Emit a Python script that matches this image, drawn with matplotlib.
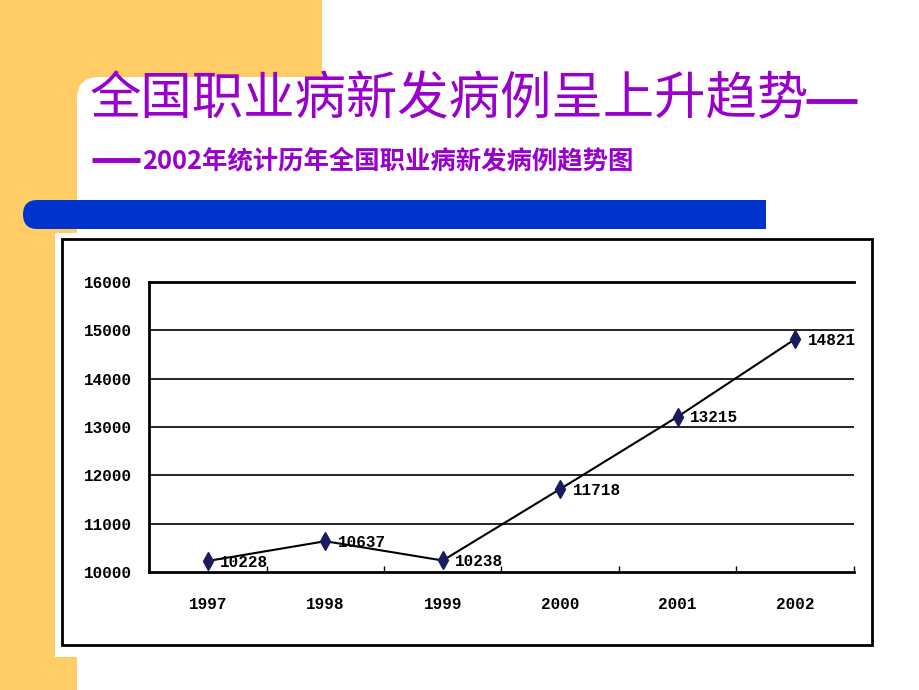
import matplotlib
matplotlib.use("Agg")
import matplotlib.pyplot as plt
from matplotlib.patches import Rectangle, FancyBboxPatch

plt.rcParams['font.family'] = ['Noto Sans CJK SC', 'DejaVu Sans']

# Dati.
years = ["1997", "1998", "1999", "2000", "2001", "2002"]
cases = [10228, 10637, 10238, 11718, 13215, 14821]
y_ticks = [10000, 11000, 12000, 13000, 14000, 15000, 16000]

TITLE = "全国职业病新发病例呈上升趋势"
SUBTITLE = "2002年统计历年全国职业病新发病例趋势图"

PURPLE = "#9900cc"
YELLOW = "#ffcc66"
BLUE = "#0033cc"
NAVY = "#1a1a5e"
NUM_FONT = ["Liberation Mono", "DejaVu Sans Mono"]


def main():
    fig = plt.figure(figsize=(9.2, 6.9), dpi=100)

    # Sfondo della diapositiva disegnato in coordinate pixel.
    bg = fig.add_axes([0, 0, 1, 1], zorder=0)
    bg.set_xlim(0, 920)
    bg.set_ylim(690, 0)
    bg.axis("off")

    bg.add_patch(Rectangle((0, 0), 322, 120, color=YELLOW, lw=0))
    bg.add_patch(Rectangle((0, 0), 77, 690, color=YELLOW, lw=0))
    bg.add_patch(FancyBboxPatch((77, 77), 1000, 1000,
                                boxstyle="round,pad=0,rounding_size=22",
                                color="white", lw=0))

    # Barra blu con l'estremità sinistra arrotondata.
    bg.add_patch(FancyBboxPatch((23, 200), 743, 29,
                                boxstyle="round,pad=0,rounding_size=14.5",
                                color=BLUE, lw=0))
    bg.add_patch(Rectangle((700, 200), 66, 29, color=BLUE, lw=0))

    # Riquadro bianco del grafico con bordo nero.
    bg.add_patch(Rectangle((55, 233), 823, 424, color="white", lw=0))
    bg.add_patch(Rectangle((62, 239), 810, 406, fill=False,
                           edgecolor="black", lw=2))

    # Titoli: il trattino lungo è spezzato su due righe come nell'originale.
    bg.text(90, 100, TITLE, color=PURPLE, fontsize=37, fontweight="medium",
            va="center", ha="left")
    bg.plot([806, 857], [101, 101], color=PURPLE, lw=3.5, solid_capstyle="butt")
    bg.plot([92, 140], [160, 160], color=PURPLE, lw=3.5, solid_capstyle="butt")
    bg.text(142, 161, SUBTITLE, color=PURPLE, fontsize=18.3, fontweight="bold",
            va="center", ha="left")

    # Grafico a linee.
    ax = fig.add_axes([149 / 920, (690 - 572) / 690,
                       (854 - 149) / 920, (572 - 282) / 690], zorder=2)
    ax.set_facecolor("none")
    x = list(range(len(years)))
    ax.plot(x, cases, color="black", lw=1.5, marker="d", markersize=9,
            markerfacecolor=NAVY, markeredgecolor=NAVY, zorder=3)

    for xi, value in zip(x, cases):
        ax.annotate(str(value), (xi, value), xytext=(9, -1),
                    textcoords="offset points", ha="left", va="center",
                    fontsize=11.5, fontweight="bold", family=NUM_FONT,
                    color="black", zorder=4)

    ax.set_xlim(-0.5, len(years) - 0.5)
    ax.set_ylim(y_ticks[0], y_ticks[-1])
    ax.set_yticks(y_ticks)
    ax.set_yticklabels([str(t) for t in y_ticks], family=NUM_FONT,
                       fontsize=11.5, fontweight="bold")
    ax.set_xticks(x)
    ax.set_xticklabels(years, family=NUM_FONT, fontsize=11.5, fontweight="bold")
    ax.set_xticks([i + 0.5 for i in x], minor=True)
    ax.tick_params(axis="x", which="major", length=0, pad=18)
    ax.tick_params(axis="x", which="minor", direction="in", length=4, width=1)
    ax.tick_params(axis="y", length=0, pad=12)

    for t in y_ticks[1:-1]:
        ax.axhline(t, color="black", lw=1.2, zorder=1)

    for side in ["top", "bottom", "left"]:
        ax.spines[side].set_linewidth(2)
    ax.spines["right"].set_visible(False)

    fig.savefig("out.png", dpi=100)


if __name__ == "__main__":
    main()
